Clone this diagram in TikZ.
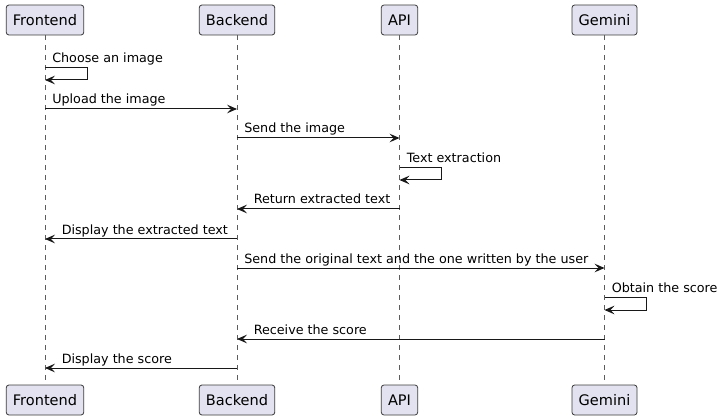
\documentclass[tikz,border=0pt]{standalone}
\usepackage{fontspec}
\setmainfont{DejaVu Sans}
\usetikzlibrary{arrows.meta,calc}
\definecolor{boxfill}{HTML}{E2E2F0}
\definecolor{ink}{HTML}{181818}
\begin{document}
\begin{tikzpicture}[x=0.75pt,y=-0.75pt,
  part/.style={draw=ink!85, fill=boxfill, rounded corners=2pt, line width=0.6pt,
    minimum height=22.5pt, inner xsep=5pt, inner ysep=0pt,
    font=\fontsize{10.9pt}{12pt}\selectfont, text=black},
  life/.style={draw=ink!70, line width=0.4pt, dash pattern=on 3.75pt off 3.75pt},
  msg/.style={draw=ink, line width=0.75pt, -{Stealth[length=7.5pt, width=6.5pt, inset=3pt]}},
  lbl/.style={anchor=base west, inner sep=0pt, font=\fontsize{9.55pt}{11pt}\selectfont, text=black}]
\useasboundingbox (0,0) rectangle (724,420);
% participants
\node[part] (fT) at (45,20) {Frontend};
\node[part] (bT) at (237,20) {Backend};
\node[part] (aT) at (399.5,20) {API};
\node[part] (gT) at (604.5,20) {Gemini};
\node[part] (fB) at (45,400) {Frontend};
\node[part] (bB) at (237,400) {Backend};
\node[part] (aB) at (399.5,400) {API};
\node[part] (gB) at (604.5,400) {Gemini};
% lifelines
\draw[life] (fT.south) -- (fB.north);
\draw[life] (bT.south) -- (bB.north);
\draw[life] (aT.south) -- (aB.north);
\draw[life] (gT.south) -- (gB.north);
% Choose an image (self)
\draw[msg] (fT |- 0,68) -- ++(42,0) -- ++(0,12) -- (fT |- 0,80);
\node[lbl] (m1) at ($(fT |- 0,63)+(7,0)$) {Choose an image};
% Upload
\draw[msg] (fT |- 0,109) -- (bT |- 0,109);
\node[lbl] (m2) at ($(fT |- 0,104)+(7,0)$) {Upload the image};
% Send the image
\draw[msg] (bT |- 0,138) -- (aT |- 0,138);
\node[lbl] (m3) at ($(bT |- 0,133)+(7,0)$) {Send the image};
% Text extraction (self)
\draw[msg] (aT |- 0,168) -- ++(42,0) -- ++(0,12) -- (aT |- 0,180);
\node[lbl] (m4) at ($(aT |- 0,163)+(7,0)$) {Text extraction};
% Return extracted text
\draw[msg] (aT |- 0,209) -- (bT |- 0,209);
\node[lbl] (m5) at ($(bT |- 0,204)+(16.5,0)$) {Return extracted text};
% Display the extracted text
\draw[msg] (bT |- 0,239) -- (fT |- 0,239);
\node[lbl] (m6) at ($(fT |- 0,234)+(16.5,0)$) {Display the extracted text};
% Send original
\draw[msg] (bT |- 0,268) -- (gT |- 0,268);
\node[lbl] (m7) at ($(bT |- 0,263)+(7,0)$) {Send the original text and the one written by the user};
% Obtain the score (self)
\draw[msg] (gT |- 0,297) -- ++(42,0) -- ++(0,13) -- (gT |- 0,310);
\node[lbl] (m8) at ($(gT |- 0,292)+(7,0)$) {Obtain the score};
% Receive the score
\draw[msg] (gT |- 0,339) -- (bT |- 0,339);
\node[lbl] (m9) at ($(bT |- 0,334)+(16.5,0)$) {Receive the score};
% Display the score
\draw[msg] (bT |- 0,368) -- (fT |- 0,368);
\node[lbl] (m10) at ($(fT |- 0,363)+(16.5,0)$) {Display the score};
\end{tikzpicture}
\end{document}
